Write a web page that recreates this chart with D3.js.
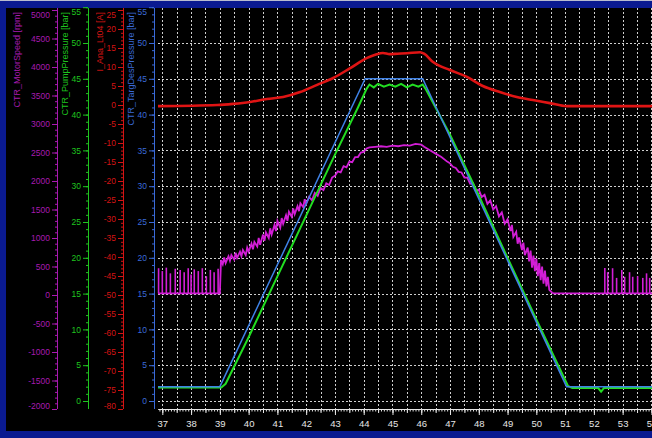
<!DOCTYPE html>
<html><head><meta charset="utf-8">
<script src="https://cdn.jsdelivr.net/npm/d3@7"></script>
<style>body{margin:0;background:#0a1a90;} svg{display:block}</style>
</head><body><svg id="c" width="652" height="438"></svg>
<script>
// ---------- DATA ----------
const timeLabels = [37,38,39,40,41,42,43,44,45,46,47,48,49,50,51,52,53,54];
const motorTicks = [5000,4500,4000,3500,3000,2500,2000,1500,1000,500,0,-500,-1000,-1500,-2000];
const pumpTicks = [55,50,45,40,35,30,25,20,15,10,5,0];
const currentTicks = [25,20,15,10,5,0,-5,-10,-15,-20,-25,-30,-35,-40,-45,-50,-55,-60,-65,-70,-75,-80];
const targetTicks = [55,50,45,40,35,30,25,20,15,10,5,0];
const gridPressure = [50,45,40,35,30,25,20,15,10,5,0];

// CTR_TargDesPressure [bar]
const targetPressure = [[36.85,2.0],[39.0,2.0],[44.05,45.0],[46.05,45.0],[51.05,2.0],[54.02,2.0]];
// CTR_PumpPressure [bar]
const pumpPressure = [[36.85,1.9],[39.05,1.9],[39.2,2.4],[40.0,8.9],[41.0,17.4],[42.0,25.9],[43.0,34.4],[43.8,41.0],
  [44.1,43.6],[44.2,44.2],[44.35,43.8],[44.5,44.3],[44.7,43.9],[44.9,44.2],[45.1,43.9],[45.3,44.3],[45.5,43.8],
  [45.7,44.2],[45.9,43.9],[46.05,44.2],[46.15,43.6],[47.0,37.2],[48.0,28.7],[49.0,20.0],[50.0,11.4],[51.1,2.1],
  [51.25,1.8],[52.15,1.8],[52.25,1.3],[52.35,1.8],[54.02,1.8]];
// I_Ana_Lt04 [A]
const current = [[36.85,-0.3],[38.91,0.0],[39.46,0.3],[40.05,0.8],[40.64,1.6],[41.2,2.1],[41.79,3.4],[42.38,5.3],
  [42.94,7.1],[43.53,9.7],[44.12,12.4],[44.4,13.2],[44.67,13.7],[44.9,13.4],[45.16,13.5],[45.5,13.6],[45.96,13.9],
  [46.1,13.5],[46.41,11.3],[47.0,9.2],[47.59,7.4],[48.14,5.0],[48.73,3.4],[49.32,2.1],[49.88,1.3],[50.47,0.5],
  [51.06,-0.3],[54.02,-0.3]];
// CTR_MotorSpeed [rpm]
const motorSpeed = [[36.85,30],[39.0,30],[39.04,610],[39.1,540],[39.15,660],[39.2,560],[39.3,680],[39.35,600],[39.4,700],
  [39.5,620],[39.55,740],[39.6,650],[39.7,760],[39.75,680],[39.8,790],[39.9,700],[39.95,830],[40.0,760],[40.1,900],
  [40.15,800],[40.2,930],[40.3,850],[40.35,1000],[40.4,880],[40.5,1060],[40.55,950],[40.6,1100],[40.7,1000],[40.75,1170],
  [40.8,1060],[40.9,1230],[40.95,1120],[41.0,1300],[41.1,1180],[41.15,1350],[41.2,1250],[41.3,1400],[41.35,1300],
  [41.4,1460],[41.5,1370],[41.55,1520],[41.6,1420],[41.7,1560],[41.75,1470],[41.8,1610],[41.9,1540],[41.95,1680],
  [42.0,1600],[42.1,1720],[42.2,1660],[42.3,1790],[42.4,1740],[42.5,1880],[42.6,1840],[42.7,1960],[42.8,1930],
  [42.9,2060],[43.0,2090],[43.1,2170],[43.2,2150],[43.3,2260],[43.4,2240],[43.5,2340],[43.6,2330],[43.7,2420],
  [43.8,2420],[43.9,2500],[44.0,2510],[44.1,2570],[44.2,2590],[44.4,2600],[44.6,2610],[44.8,2600],[45.0,2620],
  [45.2,2610],[45.4,2630],[45.6,2620],[45.8,2650],[46.0,2640],[46.1,2600],[46.3,2540],[46.5,2480],[46.7,2420],
  [46.9,2340],[47.0,2310],[47.1,2250],[47.2,2230],[47.3,2160],[47.4,2150],[47.5,2060],[47.6,2060],[47.7,1950],
  [47.8,1960],[47.9,1830],[48.0,1850],[48.1,1720],[48.2,1760],[48.3,1600],[48.4,1660],[48.5,1500],[48.6,1560],
  [48.7,1380],[48.8,1450],[48.9,1250],[49.0,1330],[49.1,1120],[49.15,1230],[49.2,1020],[49.3,1110],[49.35,900],
  [49.4,1010],[49.5,790],[49.55,920],[49.6,700],[49.7,830],[49.75,590],[49.8,780],[49.85,480],[49.9,690],[49.95,420],
  [50.0,640],[50.05,330],[50.1,560],[50.15,260],[50.2,500],[50.25,200],[50.3,430],[50.35,150],[50.4,320],[50.45,90],
  [50.55,40],[50.6,30],[54.02,30]];
// idle speed spikes [t, rpm]
const motorSpikes = [[36.87,470],[37.0,420],[37.14,480],[37.28,380],[37.45,460],[37.62,440],[37.76,400],[37.9,470],
  [38.0,360],[38.11,450],[38.25,420],[38.39,470],[38.53,330],[38.67,440],[38.8,400],[38.94,460],
  [52.38,474],[52.48,400],[52.65,470],[52.79,300],[52.97,440],[53.07,320],[53.24,400],[53.35,320],[53.52,330],
  [53.7,300],[53.83,380],[53.94,300]];

// ---------- SCALES ----------
const W = 652, H = 438;
const x = d3.scaleLinear([36.85, 54.02], [158, 652]);
const yTarget = d3.scaleLinear([0, 55], [401, 7.2]);
const yPump = d3.scaleLinear([0, 55], [401, 7.2]);
const yMotor = d3.scaleLinear([-2000, 5000], [409, 10]);
const yCur = d3.scaleLinear([-80, 25], [409, 10]);

const svg = d3.select('#c');
svg.append('rect').attr('width', W).attr('height', H).attr('fill', '#0a1a90');
svg.append('rect').attr('width', W).attr('height', 1).attr('fill', '#b8bcd0');
svg.append('rect').attr('x', 6).attr('y', 8).attr('width', W - 6).attr('height', 423).attr('fill', '#000');

const FONT = "'Liberation Sans Narrow','Liberation Sans',Arial,sans-serif";
const plain = d => String(d);

// ---------- GRID ----------
const grid = svg.append('g').attr('stroke', '#cfcfcf').attr('stroke-width', 1).attr('stroke-dasharray', '2,2');
const vgrid = d3.range(37, 54.01, 0.5);
grid.selectAll('line.v').data(vgrid).join('line').attr('class', 'v')
  .attr('x1', d => Math.round(x(d)) + 0.5).attr('x2', d => Math.round(x(d)) + 0.5)
  .attr('y1', 8).attr('y2', 409);
grid.selectAll('line.h').data(gridPressure).join('line').attr('class', 'h')
  .attr('x1', 158).attr('x2', W)
  .attr('y1', d => Math.round(yTarget(d)) + 0.5).attr('y2', d => Math.round(yTarget(d)) + 0.5);

// ---------- LEFT AXES ----------
function leftAxis(scale, ax, majors, minorStep, color, shiftBottom) {
  const dom = scale.domain();
  const minors = d3.range(dom[0], dom[1] + 1e-9, minorStep);
  const gm = svg.append('g').attr('transform', `translate(${ax},0)`);
  gm.call(d3.axisLeft(scale).tickValues(minors).tickSize(2).tickFormat('').tickSizeOuter(0));
  const g = svg.append('g').attr('transform', `translate(${ax},0)`);
  g.call(d3.axisLeft(scale).tickValues(majors).tickSize(5).tickPadding(2).tickSizeOuter(0).tickFormat(plain));
  [gm, g].forEach(s => { s.select('.domain').remove(); s.selectAll('line').attr('stroke', color); });
  svg.append('line').attr('x1', ax + 0.5).attr('x2', ax + 0.5).attr('y1', 8).attr('y2', 409)
    .attr('stroke', color).attr('stroke-width', 1);
  const top = d3.max(majors), bot = d3.min(majors);
  g.selectAll('text').attr('fill', color).attr('font-family', FONT).attr('font-size', 8.5)
    .attr('dy', d => d === top ? '0.9em' : (d === bot && shiftBottom) ? '-0.1em' : '0.32em');
}
leftAxis(yMotor, 57, motorTicks, 100, '#a81ab0', true);
leftAxis(yPump, 88, pumpTicks, 1, '#1fc41f', false);
leftAxis(yCur, 123, currentTicks, 1, '#d41414', true);
leftAxis(yTarget, 154, targetTicks, 1, '#3a6ad8', false);

// axis titles
const titles = [
  {t: 'CTR_MotorSpeed [rpm]', cx: 17, c: '#a81ab0'},
  {t: 'CTR_PumpPressure [bar]', cx: 65, c: '#1fc41f'},
  {t: 'I_Ana_Lt04 [A]', cx: 99.5, c: '#d41414'},
  {t: 'CTR_TargDesPressure [bar]', cx: 131, c: '#3a6ad8'}
];
svg.selectAll('text.title').data(titles).join('text').attr('class', 'title')
  .attr('transform', d => `translate(${d.cx},12) rotate(-90)`)
  .attr('text-anchor', 'end').attr('dy', '0.35em')
  .attr('font-family', "'Liberation Sans',Arial,sans-serif").attr('font-size', 9)
  .attr('fill', d => d.c).text(d => d.t);

// ---------- X AXIS ----------
const xg0 = svg.append('g').attr('transform', 'translate(0,409)');
xg0.call(d3.axisBottom(x).tickValues(d3.range(36.9, 54.01, 0.1)).tickSize(2.5).tickFormat('').tickSizeOuter(0));
const xg1 = svg.append('g').attr('transform', 'translate(0,409)');
xg1.call(d3.axisBottom(x).tickValues(vgrid).tickSize(4).tickFormat('').tickSizeOuter(0));
const xg = svg.append('g').attr('transform', 'translate(0,409)');
xg.call(d3.axisBottom(x).tickValues(timeLabels).tickSize(6).tickPadding(5).tickSizeOuter(0).tickFormat(plain));
[xg0, xg1, xg].forEach(s => { s.selectAll('line').attr('stroke', '#e6e6e6'); s.select('.domain').attr('stroke', '#e6e6e6'); });
xg.selectAll('text').attr('fill', '#e6e6e6').attr('font-family', FONT).attr('font-size', 9.5);

// ---------- SERIES ----------
svg.append('clipPath').attr('id', 'pc').append('rect').attr('x', 157).attr('y', 8).attr('width', W - 157).attr('height', 401);
const plot = svg.append('g').attr('clip-path', 'url(#pc)');

plot.append('path').datum(current).attr('fill', 'none').attr('stroke', '#e01414').attr('stroke-width', 2.6)
  .attr('stroke-linejoin', 'round')
  .attr('d', d3.line().x(d => x(d[0])).y(d => yCur(d[1])).curve(d3.curveMonotoneX));

plot.selectAll('line.spk').data(motorSpikes).join('line').attr('class', 'spk')
  .attr('x1', d => x(d[0])).attr('x2', d => x(d[0]))
  .attr('y1', yMotor(30)).attr('y2', d => yMotor(d[1]))
  .attr('stroke', '#d21ed6').attr('stroke-width', 1.6);
plot.append('path').datum(motorSpeed).attr('fill', 'none').attr('stroke', '#d21ed6').attr('stroke-width', 1.8)
  .attr('d', d3.line().x(d => x(d[0])).y(d => yMotor(d[1])));

plot.append('path').datum(pumpPressure).attr('fill', 'none').attr('stroke', '#22dd22').attr('stroke-width', 2)
  .attr('d', d3.line().x(d => x(d[0])).y(d => yPump(d[1])));
plot.append('path').datum(targetPressure).attr('fill', 'none').attr('stroke', '#3f82e6').attr('stroke-width', 1.5)
  .attr('d', d3.line().x(d => x(d[0])).y(d => yTarget(d[1])));
</script></body></html>
